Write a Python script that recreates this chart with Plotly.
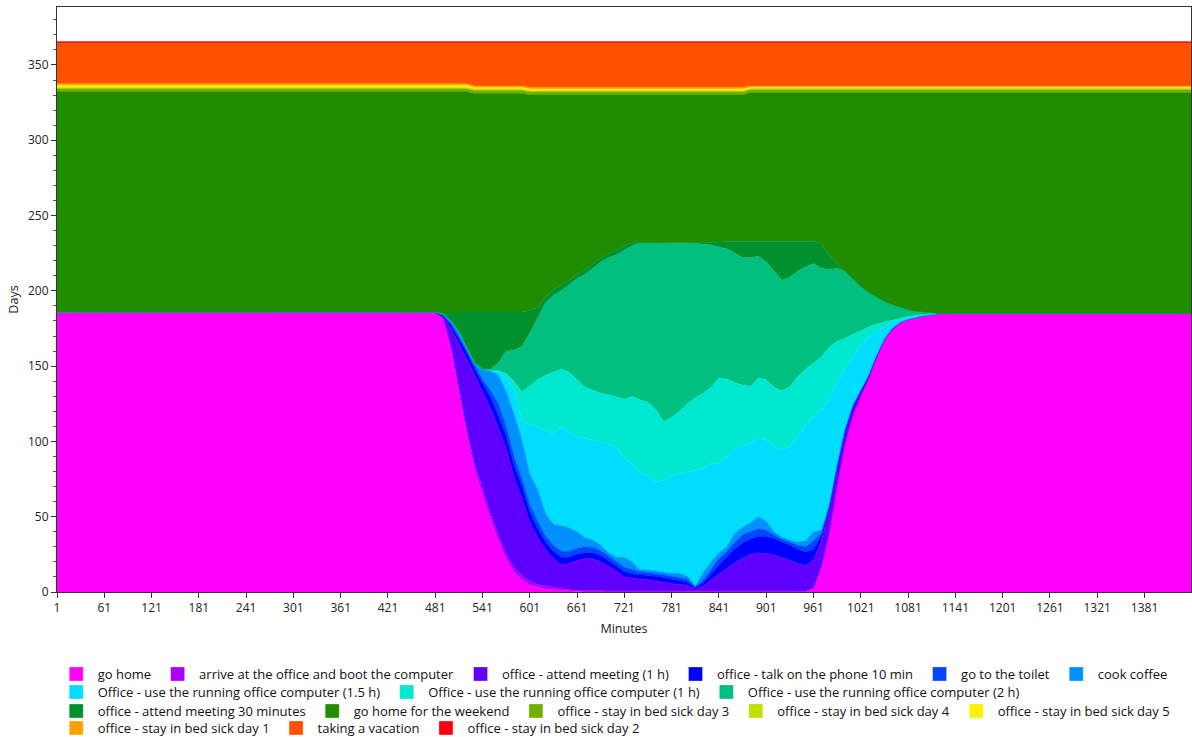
import plotly.graph_objects as go

# Minute of day (sample points of the activity profile)
minutes = [1, 461,
           471, 481, 491, 501, 511, 521, 531, 541, 551, 561,
           571, 581, 591, 601, 611, 621, 631, 641, 651, 661,
           671, 681, 691, 701, 711, 721, 731, 741, 751, 761,
           771, 781, 791, 801, 811, 821, 831, 841, 851, 861,
           871, 881, 891, 901, 911, 921, 931, 941, 951, 961,
           971, 981, 991, 1001, 1011, 1021, 1031, 1041, 1051, 1061,
           1071, 1081, 1091, 1101, 1111, 1121, 1440]

go_home = [186, 186,
           186, 185, 181, 160, 131, 104, 81, 64, 48, 34,
           22, 13, 8, 4.5, 3, 2, 1.5, 1, 0.5, 0.3,
           0, 0, 0, 0, 0, 0, 0, 0, 0, 0,
           0, 0, 0, 0, 0, 0, 0, 0, 0, 0,
           0, 0, 0, 0, 0, 0, 0, 0, 0, 2,
           16, 38, 70, 98, 117, 130, 141, 155, 167, 174,
           178.5, 181, 182.5, 183.5, 184, 185, 185]

arrive = [0, 0,
          0, 0.3, 1, 3, 4, 4, 4, 4, 4, 4,
          3, 3, 3, 2.5, 2, 2, 1.5, 1, 1, 0.7,
          1, 1, 1, 0.5, 0.5, 0.5, 0.5, 0.5, 0.5, 0.5,
          0.5, 0.5, 0.5, 0.5, 0.5, 0.5, 0.5, 0.5, 0.5, 0.5,
          0.5, 0.5, 0.5, 0.5, 0.5, 0.5, 0.5, 0.5, 0.5, 0.5,
          0.5, 0.5, 0, 0, 0, 0, 0, 0, 0, 0,
          0, 0, 0, 0, 0, 0, 0]

meeting_1h = [0, 0,
              0, 0.3, 0.5, 12, 30, 47, 59, 65, 70, 71,
              70, 60, 51, 39, 31, 24, 19, 16, 17.5, 20,
              21, 21, 19, 16.5, 13.5, 9.5, 8.5, 8, 7.5, 7,
              6, 5, 4.5, 4, 1.5, 3.5, 7.5, 11.5, 15, 19,
              22, 24.5, 25.5, 25, 24, 22.5, 20.5, 18.5, 17, 18.5,
              17.5, 17.5, 14, 10, 7, 4, 3, 2, 1, 1,
              0.5, 0, 0, 0, 0, 0, 0]

phone = [0, 0,
         0, 0.2, 1, 2, 3, 4, 4, 5, 7, 8,
         8, 8, 8, 7, 6, 5, 5, 5, 4, 4,
         4, 4, 4, 4, 3.5, 3.5, 3, 3, 3, 3,
         3, 3, 2.5, 2, 1, 2, 4, 6, 8, 9,
         10, 10, 11, 11, 11, 10, 10, 9, 9, 7,
         3, 1, 0.5, 0, 0, 0, 0, 0, 0, 0,
         0, 0, 0, 0, 0, 0, 0]

toilet = [0, 0,
          0, 0.1, 0.5, 1.5, 2, 1.5, 2, 3, 5, 8,
          7, 6, 5, 5, 5, 4, 4, 4, 4, 4,
          4, 3.5, 3.5, 3, 3, 3, 3, 2, 2, 2,
          2, 2, 2, 2, 0.5, 2, 3, 4, 3.5, 4.5,
          5.5, 5, 5, 4.5, 2.5, 2, 2, 3, 3.5, 6,
          2, 0.5, 0, 0, 0, 0, 0, 0, 0, 0,
          0, 0, 0, 0, 0, 0, 0]

coffee = [0, 0,
          0, 0.1, 0.5, 1.5, 3, 1.5, 2, 7, 13, 19,
          23, 28, 26, 20, 21, 15, 14, 17, 15.5, 11,
          6, 5, 3.5, 2, 2.5, 6.5, 5, 1.1, 1.6, 1.5,
          1.5, 1.9, 2.9, 2, 0.5, 5, 5, 4, 3, 6,
          5, 6, 8, 6, 2, 1.5, 1.6, 2, 4, 6,
          2, 0.5, 0, 0, 0, 0, 0, 0, 0, 0,
          0, 0, 0, 0, 0, 0, 0]

office_1_5h = [0, 0,
               0, 0, 0, 0, 0, 0, 0, 0, 0, 2,
               9, 16, 13, 33, 42, 55, 60, 66, 63.5, 63,
               66, 66.5, 69, 72, 73, 66, 65, 64.4, 62.4, 59,
               61, 64.6, 66.1, 69.5, 76.5, 69, 65.5, 59.5, 60, 56,
               54, 53, 52, 54, 57, 58, 61.9, 70, 77, 76,
               80, 70, 54.5, 40, 32, 29.5, 25, 16, 8.5, 4.3,
               1.8, 1, 0.5, 0.2, 0.3, 0, 0]

office_1h = [0, 0,
             0, 0, 0, 0, 0, 0, 0, 0, 0, 1,
             3, 6, 19, 26, 31, 37, 41, 38, 40, 38,
             34, 33, 32, 33, 33.5, 39, 45, 48.5, 49, 48,
             39, 39, 41.5, 45, 48.5, 50, 50.5, 56.5, 51.5, 44,
             40.5, 37.5, 40, 40, 39, 39, 39.9, 40, 37, 36,
             35, 34.5, 27.5, 20.5, 15, 10.5, 7, 5, 2.8, 1.2,
             1, 1, 0.8, 0.6, 0.5, 0, 0]

office_2h = [0, 0,
             0, 0, 0, 0, 0, 0, 0, 0, 1, 5,
             15, 20.5, 30, 35, 41, 48, 51, 52, 58, 67,
             75, 81, 87, 91, 94.5, 99, 100, 104.5, 106, 111,
             119, 116, 112, 106.5, 102.5, 99, 94.5, 87, 86.5, 86,
             84.5, 85.5, 81, 78, 77, 73.5, 72.6, 70, 68, 66,
             59, 51.5, 48.5, 44.5, 36.5, 29, 23, 18, 13.7, 10.5,
             7.2, 4.5, 2.7, 1.7, 0.7, 0, 0]

meeting_30min = [0, 0,
                 0, 0, 1.5, 6, 13, 24, 34, 38, 38, 34,
                 26, 25.5, 23, 15, 7, 4, 4, 4, 3, 3,
                 3, 3, 3, 3, 3, 3, 2, 0, 0, 0,
                 0, 0, 0, 0, 0, 0.5, 1.5, 3.5, 5, 8,
                 11, 11, 10, 14, 20, 26, 24, 20, 17, 15,
                 16, 10, 3, 0, 0, 0, 0, 0, 0, 0,
                 0, 0, 0, 0, 0, 0, 0]

weekend = [146, 146,
           146, 146, 146, 146, 146, 146, 145, 145, 145, 145,
           145, 145, 145, 143, 141, 134, 129, 126, 123, 119,
           116, 112, 108, 105, 103, 100, 98, 98, 98, 98,
           98, 98, 98, 98.5, 98.5, 98.5, 98, 97.5, 97, 97,
           97, 98.5, 98.5, 98.5, 98.5, 98.5, 98.5, 98.5, 98.5, 98.5,
           100.5, 107.5, 113.5, 118.5, 124, 128.5, 132.5, 135.5, 138.5, 140.5,
           142.5, 144, 145, 145.5, 146, 146.5, 146.5]

sick_3 = [2, 2,
          2, 2, 2, 2, 2, 2, 2, 2, 2, 2,
          2, 2, 2, 2, 2, 2, 2, 2, 2, 2,
          2, 2, 2, 2, 2, 2, 2, 2, 2, 2,
          2, 2, 2, 2, 2, 2, 2, 2, 2, 2,
          2, 2, 2, 2, 2, 2, 2, 2, 2, 2,
          2, 2, 2, 2, 2, 2, 2, 2, 2, 2,
          2, 2, 2, 2, 2, 2, 2]

sick_4 = [1, 1,
          1, 1, 1, 1, 1, 1, 1, 1, 1, 1,
          1, 1, 1, 1, 1, 1, 1, 1, 1, 1,
          1, 1, 1, 1, 1, 1, 1, 1, 1, 1,
          1, 1, 1, 1, 1, 1, 1, 1, 1, 1,
          1, 1, 1, 1, 1, 1, 1, 1, 1, 1,
          1, 1, 1, 1, 1, 1, 1, 1, 1, 1,
          1, 1, 1, 1, 1, 1, 1]

sick_5 = [1.5, 1.5,
          1.5, 1.5, 1.5, 1.5, 1.5, 1.5, 1, 1, 1, 1,
          1, 1, 1, 1, 1, 1, 1, 1, 1, 1,
          1, 1, 1, 1, 1, 1, 1, 1, 1, 1,
          1, 1, 1, 1, 1, 1, 1, 1, 1, 1,
          1, 0.5, 0.5, 0.5, 0.5, 0.5, 0.5, 0.5, 0.5, 0.5,
          0.5, 0.5, 0.5, 0.5, 0.5, 0.5, 0.5, 0.5, 0.5, 0.5,
          0.5, 0.5, 0.5, 0.5, 0.5, 0.5, 0.5]

sick_1 = [1, 1,
          1, 1, 1, 1, 1, 1, 1, 1, 1, 1,
          1, 1, 1, 1, 1, 1, 1, 1, 1, 1,
          1, 1, 1, 1, 1, 1, 1, 1, 1, 1,
          1, 1, 1, 1, 1, 1, 1, 1, 1, 1,
          1, 1, 1, 1, 1, 1, 1, 1, 1, 1,
          1, 1, 1, 1, 1, 1, 1, 1, 1, 1,
          1, 1, 1, 1, 1, 1, 1]

vacation = [27, 27,
            27, 27, 27, 27, 27, 27, 28.5, 28.5, 28.5, 28.5,
            28.5, 28.5, 28.5, 29.5, 29.5, 29.5, 29.5, 29.5, 29.5, 29.5,
            29.5, 29.5, 29.5, 29.5, 29.5, 29.5, 29.5, 29.5, 29.5, 29.5,
            29.5, 29.5, 29.5, 29.5, 29.5, 29.5, 29.5, 29.5, 29.5, 29.5,
            29.5, 28.5, 28.5, 28.5, 28.5, 28.5, 28.5, 28.5, 28.5, 28.5,
            28.5, 28.5, 28.5, 28.5, 28.5, 28.5, 28.5, 28.5, 28.5, 28.5,
            28.5, 28.5, 28.5, 28.5, 28.5, 28.5, 28.5]

sick_2 = [1, 1,
          1, 1, 1, 1, 1, 1, 1, 1, 1, 1,
          1, 1, 1, 1, 1, 1, 1, 1, 1, 1,
          1, 1, 1, 1, 1, 1, 1, 1, 1, 1,
          1, 1, 1, 1, 1, 1, 1, 1, 1, 1,
          1, 1, 1, 1, 1, 1, 1, 1, 1, 1,
          1, 1, 1, 1, 1, 1, 1, 1, 1, 1,
          1, 1, 1, 1, 1, 1, 1]

names = ["go home", "arrive at the office and boot the computer",
         "office - attend meeting (1 h)", "office - talk on the phone 10 min",
         "go to the toilet", "cook coffee",
         "Office - use the running office computer (1.5 h)",
         "Office - use the running office computer (1 h)",
         "Office - use the running office computer (2 h)",
         "office - attend meeting 30 minutes", "go home for the weekend",
         "office - stay in bed sick day 3", "office - stay in bed sick day 4",
         "office - stay in bed sick day 5", "office - stay in bed sick day 1",
         "taking a vacation", "office - stay in bed sick day 2"]

series = [go_home, arrive, meeting_1h, phone, toilet, coffee,
          office_1_5h, office_1h, office_2h, meeting_30min, weekend,
          sick_3, sick_4, sick_5, sick_1, vacation, sick_2]

colors = ["#FF00FF", "#AA00FF", "#5F00FF", "#0000FF", "#0046FF", "#0090FF",
          "#00DDFF", "#00E8CF", "#00BF7F", "#00902C", "#208C00",
          "#70B000", "#C4DE00", "#FFF000", "#FFA000", "#FF5000", "#FF0010"]

# legend row each entry belongs to (as in the reference layout)
legend_rows = ["legend", "legend", "legend", "legend", "legend", "legend",
               "legend2", "legend2", "legend2",
               "legend3", "legend3", "legend3", "legend3", "legend3",
               "legend4", "legend4", "legend4"]

x_ticks = [1, 61, 121, 181, 241, 301, 361, 421, 481, 541, 601, 661, 721, 781,
           841, 901, 961, 1021, 1081, 1141, 1201, 1261, 1321, 1381]
y_ticks = [0, 50, 100, 150, 200, 250, 300, 350]

FONT = "Segoe UI, Open Sans, Noto Sans, sans-serif"

fig = go.Figure()
for name, vals, col in zip(names, series, colors):
    fig.add_trace(go.Scatter(
        x=minutes, y=vals, stackgroup="day", mode="lines",
        line=dict(width=0.6, color=col), fillcolor=col,
        name=name, legendgroup=name, showlegend=False, hoverinfo="skip"))
for name, col, lg in zip(names, colors, legend_rows):
    fig.add_trace(go.Scatter(
        x=[None], y=[None], mode="markers", name=name, legendgroup=name,
        legend=lg,
        marker=dict(symbol="square", size=14, color=col,
                    line=dict(width=0.5, color="rgba(255,255,255,0.6)"))))

legend_style = dict(orientation="h", x=-0.002, xanchor="left", yanchor="middle",
                    font=dict(family=FONT, size=13, color="#111"),
                    itemsizing="trace", itemwidth=33, tracegroupgap=0,
                    traceorder="normal", bgcolor="rgba(0,0,0,0)")

fig.update_layout(
    width=1192, height=737,
    margin=dict(l=57, r=1, t=7, b=145, autoexpand=False),
    paper_bgcolor="white", plot_bgcolor="white",
    font=dict(family=FONT, size=12, color="#222"),
    showlegend=True,
    legend=dict(legend_style, y=-0.1402),
    legend2=dict(legend_style, y=-0.1709),
    legend3=dict(legend_style, y=-0.2034),
    legend4=dict(legend_style, y=-0.2325),
)
fig.update_xaxes(
    range=[1, 1440], tickmode="array", tickvals=x_ticks,
    ticks="outside", ticklen=5, tickcolor="#333",
    showline=True, linecolor="#333", linewidth=1, mirror=True,
    showgrid=False, zeroline=False,
    title=dict(text="Minutes", standoff=8, font=dict(size=12.5)),
    tickfont=dict(size=12, color="#222"))
fig.update_yaxes(
    range=[0, 388.5], tickmode="array", tickvals=y_ticks,
    ticks="outside", ticklen=5, tickcolor="#333",
    minor=dict(dtick=10, ticks="outside", ticklen=3, tickcolor="#555", showgrid=False),
    showline=True, linecolor="#333", linewidth=1, mirror=True,
    showgrid=False, zeroline=False,
    title=dict(text="Days", standoff=6, font=dict(size=12.5)),
    tickfont=dict(size=12, color="#222"))

fig.write_html("out.html", config={"displayModeBar": False},
               post_script="document.body.style.margin='0';document.body.style.overflow='hidden';")
